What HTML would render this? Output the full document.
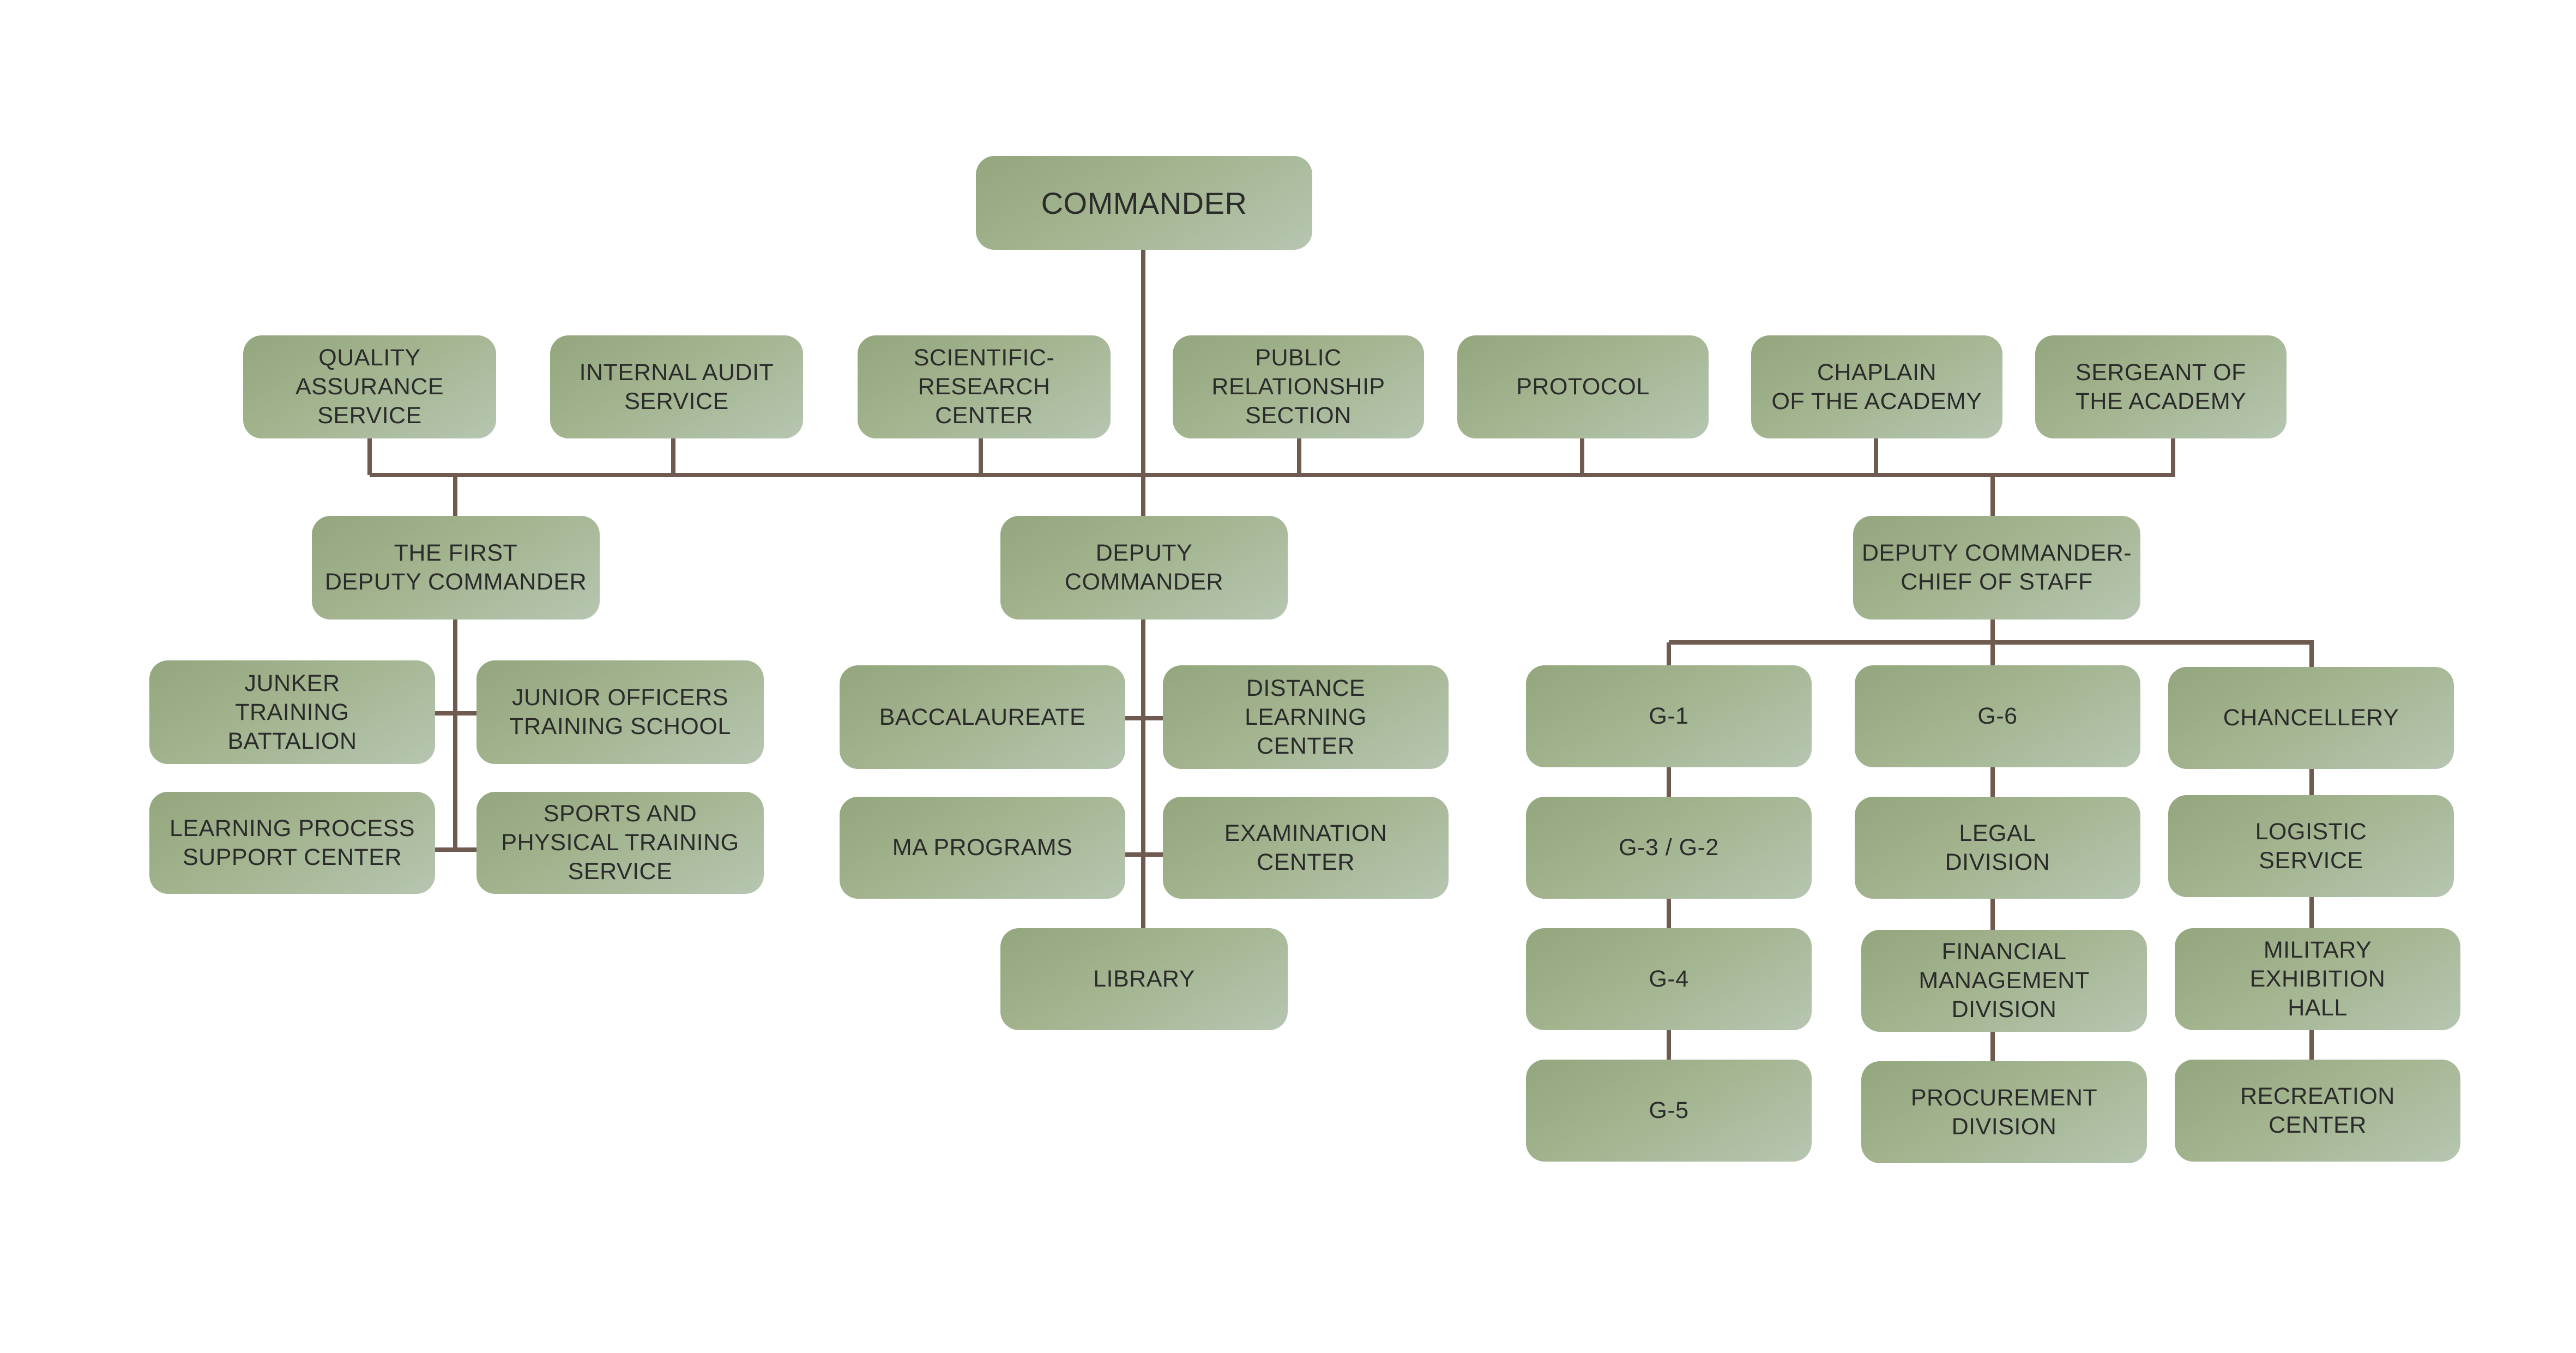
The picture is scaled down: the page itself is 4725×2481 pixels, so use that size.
<!DOCTYPE html>
<html><head><meta charset="utf-8"><style>
html,body{margin:0;padding:0;background:#fff;}
body{width:4725px;height:2481px;position:relative;overflow:hidden;font-family:"Liberation Sans",sans-serif;}
.b{position:absolute;box-sizing:border-box;border-radius:34px;background:linear-gradient(150deg,#93a67d 0%,#a3b48f 45%,#b6c6b1 100%);display:flex;align-items:center;justify-content:center;text-align:center;color:#2b2b2b;font-size:43px;line-height:53px;letter-spacing:0.5px;}
svg{position:absolute;left:0;top:0;}
</style></head><body>
<svg width="4725" height="2481" stroke="#6e5a4e" stroke-width="8" fill="none">
<path d="M2097 458V946M678 871H3990M678 804V871M1235 804V871M1799 804V871M2383 804V871M2902 804V871M3441 804V871M3986 804V871M835 871V946M3655 871V946"/>
<path d="M835 1136V1558M798 1308H874M798 1558H874"/>
<path d="M2097 1136V1702M2064 1317H2133M2064 1567H2133"/>
<path d="M3655 1136V1178M3061 1178H4244M3061 1178V1943M3655 1178V1946M4240 1178V1943"/>
</svg>
<div class="b" style="left:1790px;top:286px;width:617px;height:172px;font-size:56px;">COMMANDER</div>
<div class="b" style="left:446px;top:615px;width:464px;height:189px;">QUALITY<br>ASSURANCE<br>SERVICE</div>
<div class="b" style="left:1009px;top:615px;width:464px;height:189px;">INTERNAL AUDIT<br>SERVICE</div>
<div class="b" style="left:1573px;top:615px;width:464px;height:189px;">SCIENTIFIC-<br>RESEARCH<br>CENTER</div>
<div class="b" style="left:2151px;top:615px;width:461px;height:189px;">PUBLIC<br>RELATIONSHIP<br>SECTION</div>
<div class="b" style="left:2673px;top:615px;width:461px;height:189px;">PROTOCOL</div>
<div class="b" style="left:3212px;top:615px;width:461px;height:189px;">CHAPLAIN<br>OF THE ACADEMY</div>
<div class="b" style="left:3733px;top:615px;width:461px;height:189px;">SERGEANT OF<br>THE ACADEMY</div>
<div class="b" style="left:572px;top:946px;width:528px;height:190px;">THE FIRST<br>DEPUTY COMMANDER</div>
<div class="b" style="left:1835px;top:946px;width:527px;height:190px;">DEPUTY<br>COMMANDER</div>
<div class="b" style="left:3399px;top:946px;width:527px;height:190px;">DEPUTY COMMANDER-<br>CHIEF OF STAFF</div>
<div class="b" style="left:274px;top:1211px;width:524px;height:190px;">JUNKER<br>TRAINING<br>BATTALION</div>
<div class="b" style="left:874px;top:1211px;width:527px;height:190px;">JUNIOR OFFICERS<br>TRAINING SCHOOL</div>
<div class="b" style="left:274px;top:1452px;width:524px;height:187px;">LEARNING PROCESS<br>SUPPORT CENTER</div>
<div class="b" style="left:874px;top:1452px;width:527px;height:187px;">SPORTS AND<br>PHYSICAL TRAINING<br>SERVICE</div>
<div class="b" style="left:1540px;top:1220px;width:524px;height:190px;">BACCALAUREATE</div>
<div class="b" style="left:2133px;top:1220px;width:524px;height:190px;">DISTANCE<br>LEARNING<br>CENTER</div>
<div class="b" style="left:1540px;top:1461px;width:524px;height:187px;">MA PROGRAMS</div>
<div class="b" style="left:2133px;top:1461px;width:524px;height:187px;">EXAMINATION<br>CENTER</div>
<div class="b" style="left:1835px;top:1702px;width:527px;height:187px;">LIBRARY</div>
<div class="b" style="left:2799px;top:1220px;width:524px;height:187px;">G-1</div>
<div class="b" style="left:2799px;top:1461px;width:524px;height:187px;">G-3 / G-2</div>
<div class="b" style="left:2799px;top:1702px;width:524px;height:187px;">G-4</div>
<div class="b" style="left:2799px;top:1943px;width:524px;height:187px;">G-5</div>
<div class="b" style="left:3402px;top:1220px;width:524px;height:187px;">G-6</div>
<div class="b" style="left:3402px;top:1461px;width:524px;height:187px;">LEGAL<br>DIVISION</div>
<div class="b" style="left:3414px;top:1705px;width:524px;height:187px;">FINANCIAL<br>MANAGEMENT<br>DIVISION</div>
<div class="b" style="left:3414px;top:1946px;width:524px;height:187px;">PROCUREMENT<br>DIVISION</div>
<div class="b" style="left:3977px;top:1223px;width:524px;height:187px;">CHANCELLERY</div>
<div class="b" style="left:3977px;top:1458px;width:524px;height:187px;">LOGISTIC<br>SERVICE</div>
<div class="b" style="left:3989px;top:1702px;width:524px;height:187px;">MILITARY<br>EXHIBITION<br>HALL</div>
<div class="b" style="left:3989px;top:1943px;width:524px;height:187px;">RECREATION<br>CENTER</div>
</body></html>
